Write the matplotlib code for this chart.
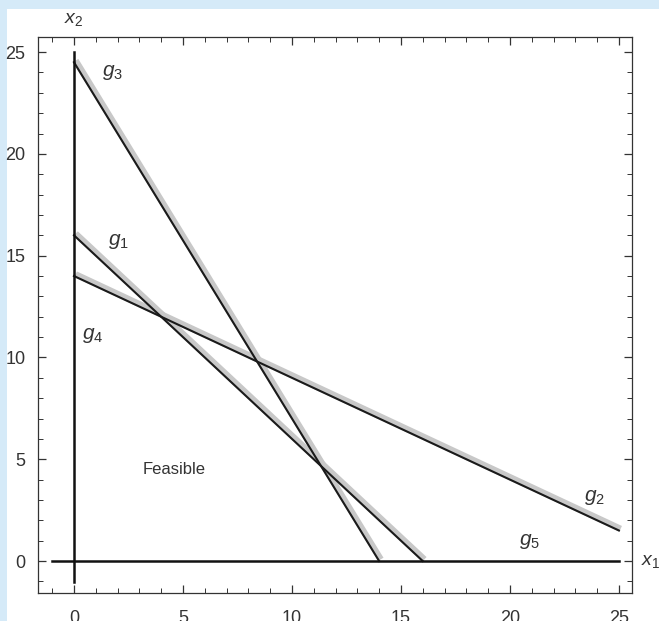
import numpy as np
import matplotlib
matplotlib.use('Agg')
import matplotlib.pyplot as plt
import matplotlib.transforms as mtransforms
from matplotlib.ticker import MultipleLocator

plt.rcParams['font.family'] = ['Liberation Sans', 'DejaVu Sans']
plt.rcParams['mathtext.fontset'] = 'custom'
plt.rcParams['mathtext.it'] = 'Liberation Sans:italic'
plt.rcParams['mathtext.rm'] = 'Liberation Sans'

# constraint lines (end points)
g1_x = [0, 16]
g1_y = [16, 0]
g2_x = [0, 25]
g2_y = [14, 1.5]
g3_x = [0, 14]
g3_y = [24.5, 0]
g4_x = [0, 0]
g4_y = [-1.05, 25]
g5_x = [-1.0, 25]
g5_y = [0, 0]

labels = ['$g_1$', '$g_2$', '$g_3$', '$g_4$', '$g_5$', 'Feasible']
label_x = [2.05, 23.9, 1.75, 0.85, 20.9, 4.6]
label_y = [15.7, 3.1, 24.0, 11.1, 0.95, 4.5]

fig = plt.figure(figsize=(6.59, 6.21), dpi=100, facecolor='#d5eaf8')
# white page area behind the plot
fig.patches.append(plt.Rectangle((7 / 659, 0), 1, 1 - 9 / 621, transform=fig.transFigure,
                                 facecolor='white', edgecolor='none', zorder=-5))

ax = fig.add_axes([38 / 659, 1 - 593 / 621, (632 - 38) / 659, (593 - 37) / 621])
ax.set_zorder(2)
ax.set_xlim(-1.65, 25.6)
ax.set_ylim(-1.57, 25.74)

# light grey shadow lines, shifted a little up and right
shadow = mtransforms.offset_copy(ax.transData, fig=fig, x=1.7, y=1.7, units='dots')
for xs, ys in [(g1_x, g1_y), (g2_x, g2_y), (g3_x, g3_y)]:
    ax.plot(xs, ys, color='#c8c8c8', lw=4.5, solid_capstyle='butt', transform=shadow, zorder=2)
    ax.plot(xs, ys, color='#1a1a1a', lw=1.5, zorder=3)

ax.plot(g4_x, g4_y, color='#111111', lw=1.8, zorder=3)
ax.plot(g5_x, g5_y, color='#111111', lw=1.8, zorder=3)

for t, x, y in zip(labels, label_x, label_y):
    ax.text(x, y, t, fontsize=15 if t != 'Feasible' else 12, color='#333333',
            ha='center', va='center')

# axis labels outside the frame
ax.text(0, 26.2, '$x_2$', fontsize=14, color='#333333', ha='center', va='bottom', clip_on=False)
ax.text(26.0, 0, '$x_1$', fontsize=14, color='#333333', ha='left', va='center', clip_on=False)

ax.xaxis.set_major_locator(MultipleLocator(5))
ax.xaxis.set_minor_locator(MultipleLocator(1))
ax.yaxis.set_major_locator(MultipleLocator(5))
ax.yaxis.set_minor_locator(MultipleLocator(1))
ax.tick_params(which='both', direction='in', top=True, right=True, color='#333333',
               labelsize=13, labelcolor='#333333')
ax.tick_params(which='major', length=6, width=0.9)
ax.tick_params(which='minor', length=3.5, width=0.7)
ax.tick_params(axis='x', pad=12)
ax.tick_params(axis='y', pad=9)
for s in ax.spines.values():
    s.set_color('#333333')
    s.set_linewidth(0.9)

fig.savefig('out.png', dpi=100, facecolor=fig.get_facecolor())
